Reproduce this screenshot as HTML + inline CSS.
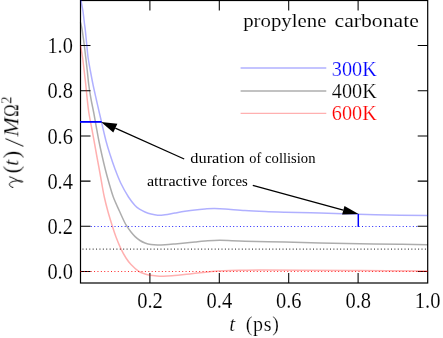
<!DOCTYPE html>
<html><head><meta charset="utf-8"><title>plot</title>
<style>
html,body{margin:0;padding:0;background:#fff;}
body{width:443px;height:338px;overflow:hidden;}
svg{display:block;}
text{font-family:"Liberation Serif",serif;fill:#000;stroke:#fff;stroke-width:0.2px;}
text.tk{stroke-width:0.1px;}
text.sm{stroke:none;}
</style></head><body>
<svg width="443" height="338" viewBox="0 0 443 338">
<rect width="443" height="338" fill="#fff"/>
<g fill="none" stroke="#000" stroke-width="1.05">
<path d="M149.9 283.0v-10M149.9 0.5v10"/><path d="M219.3 283.0v-10M219.3 0.5v10"/><path d="M288.7 283.0v-10M288.7 0.5v10"/><path d="M358.1 283.0v-10M358.1 0.5v10"/><path d="M80.5 271.5h10M427.7 271.5h-10"/><path d="M80.5 226.3h10M427.7 226.3h-10"/><path d="M80.5 181.1h10M427.7 181.1h-10"/><path d="M80.5 135.9h10M427.7 135.9h-10"/><path d="M80.5 90.7h10M427.7 90.7h-10"/><path d="M80.5 45.5h10M427.7 45.5h-10"/>
</g>
<rect x="80.5" y="0.5" width="347.2" height="282.5" fill="none" stroke="#000" stroke-width="1.2"/>
<g fill="none" stroke-width="1.15" stroke-opacity="0.85">
<path d="M90.8 226.5H417.7" stroke="#0000ff" stroke-dasharray="1 2.39"/>
<path d="M82.5 249.1H427.7" stroke="#222" stroke-dasharray="1 2.39"/>
<path d="M80.5 271.5H427.7" stroke="#ff0000" stroke-dasharray="1 2.39"/>
</g>
<g fill="none" stroke-width="1.5" stroke-linejoin="round">
<path d="M80.50 45.30C80.83 47.25 81.88 52.72 82.50 57.00C83.12 61.28 83.65 66.33 84.20 71.00C84.75 75.67 85.30 80.33 85.80 85.00C86.30 89.67 86.68 94.33 87.20 99.00C87.72 103.67 88.18 108.33 88.90 113.00C89.62 117.67 90.63 122.33 91.50 127.00C92.37 131.67 93.25 136.33 94.10 141.00C94.95 145.67 95.75 150.33 96.60 155.00C97.45 159.67 98.35 164.33 99.20 169.00C100.05 173.67 100.85 178.33 101.70 183.00C102.55 187.67 103.28 192.33 104.30 197.00C105.32 201.67 106.52 206.33 107.80 211.00C109.08 215.67 110.63 220.67 112.00 225.00C113.37 229.33 114.48 232.98 116.00 237.00C117.52 241.02 119.43 245.60 121.10 249.10C122.77 252.60 124.35 255.43 126.00 258.00C127.65 260.57 128.87 262.27 131.00 264.50C133.13 266.73 136.47 269.82 138.80 271.40C141.13 272.98 143.13 273.35 145.00 274.00C146.87 274.65 148.00 274.97 150.00 275.30C152.00 275.63 154.75 275.85 157.00 276.00C159.25 276.15 161.00 276.23 163.50 276.20C166.00 276.17 169.25 276.00 172.00 275.80C174.75 275.60 177.00 275.32 180.00 275.00C183.00 274.68 186.67 274.27 190.00 273.90C193.33 273.53 196.67 273.17 200.00 272.80C203.33 272.43 207.00 272.00 210.00 271.70C213.00 271.40 214.67 271.20 218.00 271.00C221.33 270.80 225.50 270.63 230.00 270.50C234.50 270.37 240.00 270.27 245.00 270.20C250.00 270.13 250.83 270.10 260.00 270.10C269.17 270.10 283.33 270.12 300.00 270.20C316.67 270.28 338.72 270.48 360.00 270.60C381.28 270.72 416.42 270.85 427.70 270.90" stroke="#ff0000" stroke-opacity="0.31"/>
<path d="M80.50 22.40C80.75 23.50 81.42 25.57 82.00 29.00C82.58 32.43 83.38 38.33 84.00 43.00C84.62 47.67 85.15 52.33 85.70 57.00C86.25 61.67 86.78 66.33 87.30 71.00C87.82 75.67 88.18 80.33 88.80 85.00C89.42 89.67 90.17 94.33 91.00 99.00C91.83 103.67 92.92 108.33 93.80 113.00C94.68 117.67 95.45 122.33 96.30 127.00C97.15 131.67 97.97 136.33 98.90 141.00C99.83 145.67 100.85 150.33 101.90 155.00C102.95 159.67 104.02 164.33 105.20 169.00C106.38 173.67 107.65 178.33 109.00 183.00C110.35 187.67 111.57 192.33 113.30 197.00C115.03 201.67 117.50 206.75 119.40 211.00C121.30 215.25 123.43 219.93 124.70 222.50C125.97 225.07 125.95 224.82 127.00 226.40C128.05 227.98 129.65 230.30 131.00 232.00C132.35 233.70 133.60 235.18 135.10 236.60C136.60 238.02 138.35 239.43 140.00 240.50C141.65 241.57 143.17 242.32 145.00 243.00C146.83 243.68 148.90 244.25 151.00 244.60C153.10 244.95 155.27 245.07 157.60 245.10C159.93 245.13 162.10 245.00 165.00 244.80C167.90 244.60 171.67 244.22 175.00 243.90C178.33 243.58 181.67 243.23 185.00 242.90C188.33 242.57 191.67 242.22 195.00 241.90C198.33 241.58 200.83 241.27 205.00 241.00C209.17 240.73 213.33 240.27 220.00 240.30C226.67 240.33 234.17 240.90 245.00 241.20C255.83 241.50 272.50 241.80 285.00 242.10C297.50 242.40 307.50 242.73 320.00 243.00C332.50 243.27 346.67 243.50 360.00 243.70C373.33 243.90 388.72 244.03 400.00 244.20C411.28 244.37 423.08 244.62 427.70 244.70" stroke="#000000" stroke-opacity="0.32"/>
<path d="M80.90 0.00C81.08 1.00 81.63 4.00 82.00 6.00C82.37 8.00 82.80 10.00 83.10 12.00C83.40 14.00 83.57 16.00 83.80 18.00C84.03 20.00 84.25 22.00 84.50 24.00C84.75 26.00 84.93 26.67 85.30 30.00C85.67 33.33 86.25 39.50 86.70 44.00C87.15 48.50 87.38 52.50 88.00 57.00C88.62 61.50 89.55 66.33 90.40 71.00C91.25 75.67 92.13 80.33 93.10 85.00C94.07 89.67 95.15 94.33 96.20 99.00C97.25 103.67 98.52 109.17 99.40 113.00C100.28 116.83 100.40 117.33 101.50 122.00C102.60 126.67 104.55 135.50 106.00 141.00C107.45 146.50 108.70 150.33 110.20 155.00C111.70 159.67 113.25 164.33 115.00 169.00C116.75 173.67 118.45 178.33 120.70 183.00C122.95 187.67 126.12 193.27 128.50 197.00C130.88 200.73 133.08 203.33 135.00 205.40C136.92 207.47 138.33 208.30 140.00 209.40C141.67 210.50 143.17 211.22 145.00 212.00C146.83 212.78 148.90 213.55 151.00 214.10C153.10 214.65 155.27 215.18 157.60 215.30C159.93 215.42 162.10 215.18 165.00 214.80C167.90 214.42 171.67 213.58 175.00 213.00C178.33 212.42 181.67 211.82 185.00 211.30C188.33 210.78 191.67 210.28 195.00 209.90C198.33 209.52 201.83 209.23 205.00 209.00C208.17 208.77 210.67 208.52 214.00 208.50C217.33 208.48 219.83 208.55 225.00 208.90C230.17 209.25 238.33 210.15 245.00 210.60C251.67 211.05 258.33 211.33 265.00 211.60C271.67 211.87 275.83 211.97 285.00 212.20C294.17 212.43 307.83 212.67 320.00 213.00C332.17 213.33 344.67 213.83 358.00 214.20C371.33 214.57 388.38 214.97 400.00 215.20C411.62 215.43 423.08 215.53 427.70 215.60" stroke="#0000ff" stroke-opacity="0.31"/>
<path d="M240.6 68H326.3" stroke="#0000ff" stroke-opacity="0.31" stroke-width="1.3"/>
<path d="M240.6 91H326.3" stroke="#000000" stroke-opacity="0.32" stroke-width="1.3"/>
<path d="M240.6 113.4H326.3" stroke="#ff0000" stroke-opacity="0.31" stroke-width="1.3"/>
</g>
<g stroke="#0000ff" stroke-width="1.8" fill="none">
<path d="M80 121.9H101.7"/>
<path d="M358.3 214.0V226.9" stroke-width="1.5"/>
</g>
<g stroke="#000" stroke-width="1.2" fill="#000">
<path d="M184.2 159L115.3 128.1" fill="none"/>
<path d="M101.1 121.9L117.4 123.8L113.3 132.4Z" stroke="none"/>
<path d="M252.8 185.3L343.3 210.2" fill="none"/>
<path d="M358.6 214.1L344.5 206L342.1 214.4Z" stroke="none"/>
</g>
<g font-size="20" opacity="0.999">
<text class="tk" x="47.4" y="279.2" font-size="22.5" textLength="25.5" lengthAdjust="spacingAndGlyphs">0.0</text><text class="tk" x="47.4" y="234.0" font-size="22.5" textLength="25.5" lengthAdjust="spacingAndGlyphs">0.2</text><text class="tk" x="47.4" y="188.8" font-size="22.5" textLength="25.5" lengthAdjust="spacingAndGlyphs">0.4</text><text class="tk" x="47.4" y="143.6" font-size="22.5" textLength="25.5" lengthAdjust="spacingAndGlyphs">0.6</text><text class="tk" x="47.4" y="98.4" font-size="22.5" textLength="25.5" lengthAdjust="spacingAndGlyphs">0.8</text><text class="tk" x="47.4" y="53.2" font-size="22.5" textLength="25.5" lengthAdjust="spacingAndGlyphs">1.0</text>
<text class="tk" x="137.2" y="307.5" font-size="22.5" textLength="25.6" lengthAdjust="spacingAndGlyphs">0.2</text><text class="tk" x="206.6" y="307.5" font-size="22.5" textLength="25.6" lengthAdjust="spacingAndGlyphs">0.4</text><text class="tk" x="276.0" y="307.5" font-size="22.5" textLength="25.6" lengthAdjust="spacingAndGlyphs">0.6</text><text class="tk" x="345.4" y="307.5" font-size="22.5" textLength="25.6" lengthAdjust="spacingAndGlyphs">0.8</text><text class="tk" x="414.8" y="307.5" font-size="22.5" textLength="25.6" lengthAdjust="spacingAndGlyphs">1.0</text>
<text x="243.2" class="tk" y="27.4" font-size="19.3" textLength="83.3" lengthAdjust="spacingAndGlyphs">propylene</text><text x="334.5" class="tk" y="27.4" font-size="19.3" textLength="84.3" lengthAdjust="spacingAndGlyphs">carbonate</text>
<text x="331.8" y="75.5" font-size="21.5" textLength="45" lengthAdjust="spacingAndGlyphs" style="fill:#0000ff">300K</text>
<text x="331.8" y="97.9" font-size="21.5" textLength="45" lengthAdjust="spacingAndGlyphs">400K</text>
<text x="331.8" y="120.4" font-size="21.5" textLength="45" lengthAdjust="spacingAndGlyphs" style="fill:#ff0000">600K</text>
<text x="229.3" y="330.9" font-style="italic" font-size="21">t</text><text x="245.8" y="330.9" textLength="33" lengthAdjust="spacing">(ps)</text>
<g transform="translate(18.3 187.9) rotate(-90)">
<path d="M0.5 -5.4C1 -7.6 2.3 -9 3.9 -8.8C6 -8.5 6.9 -4.6 7.3 0.3L7.1 2.2C7 3.6 6.7 4.5 6.2 4.6C5.7 4.5 5.7 3 6.3 1.6C7.8 -1.6 10.3 -5.4 11.2 -8.7" stroke="#000" stroke-width="1" fill="none" stroke-linecap="round" stroke-linejoin="round"/>
<text x="14.6" y="0.6" font-size="23">(</text>
<text x="22" y="0" font-style="italic" font-size="22">t</text>
<text x="29.4" y="0.6" font-size="23">)</text>
<path d="M41.6 5.2L49.3 -12.8" stroke="#000" stroke-width="1" fill="none"/>
<text x="51.3" y="0" font-style="italic" font-size="21" textLength="19.4" lengthAdjust="spacingAndGlyphs">M</text>
<text x="71" y="0" font-size="21" textLength="12.6" lengthAdjust="spacingAndGlyphs">Ω</text>
<text x="84" y="-6.8" font-size="15">2</text>
</g>
</g>
<g font-size="14.5" opacity="0.999">
<text class="sm" x="190.3" y="163.3" textLength="54.5" lengthAdjust="spacingAndGlyphs">duration</text><text class="sm" x="249.3" y="163.3" textLength="11.9" lengthAdjust="spacingAndGlyphs">of</text><text class="sm" x="265.1" y="163.3" textLength="50.4" lengthAdjust="spacingAndGlyphs">collision</text>
<text class="sm" x="146.9" y="186" textLength="60.1" lengthAdjust="spacingAndGlyphs">attractive</text><text class="sm" x="211.6" y="186" textLength="36.2" lengthAdjust="spacingAndGlyphs">forces</text>
</g>
</svg>
</body></html>
